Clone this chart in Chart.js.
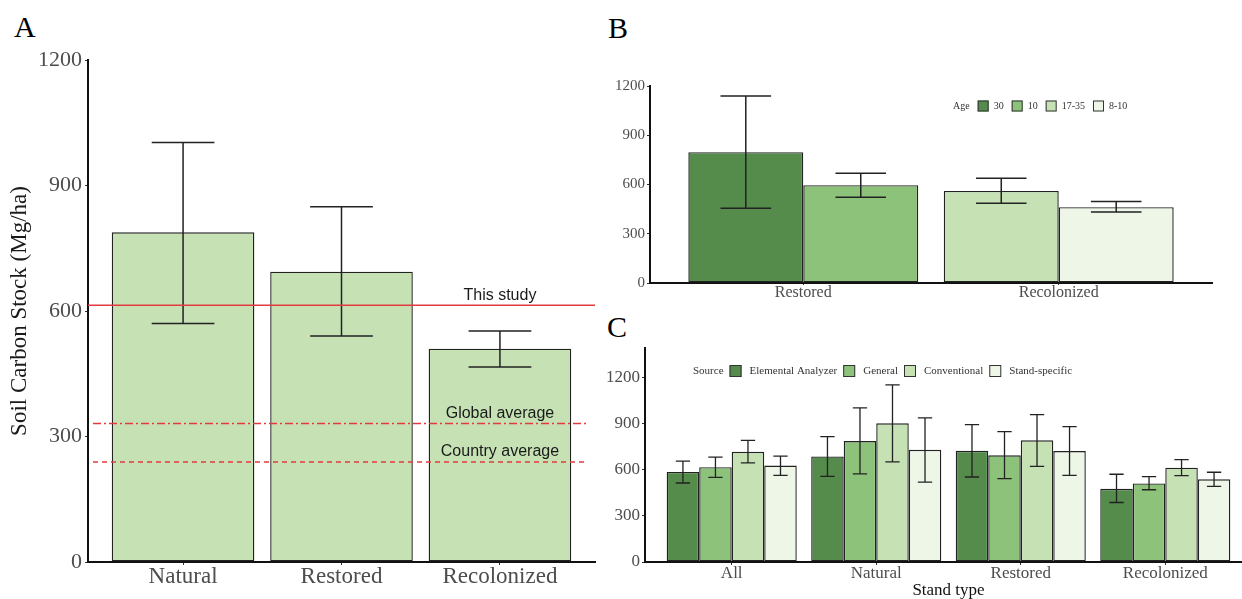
<!DOCTYPE html>
<html>
<head>
<meta charset="utf-8">
<script src="https://cdn.jsdelivr.net/npm/chart.js@4.4.1/dist/chart.umd.min.js"></script>
<style>
  body { margin: 0; width: 1242px; height: 599px; overflow: hidden; background: #fff; position: relative; }
  .panel { position: absolute; }
  .tag { position: absolute; font-family: 'Liberation Serif', 'Times New Roman', serif; font-size: 30px; line-height: 1; color: #000; }
</style>
</head>
<body>
<div class="tag" style="left:14px;top:12px">A</div>
<div class="tag" style="left:608px;top:13px">B</div>
<div class="tag" style="left:607px;top:312px">C</div>
<canvas class="panel" id="chartA" width="600" height="599" style="left:0;top:0"></canvas>
<canvas class="panel" id="chartB" width="642" height="310" style="left:600px;top:0"></canvas>
<canvas class="panel" id="chartC" width="652" height="289" style="left:600px;top:310px"></canvas>
<script>
// Panel A: soil carbon stock by stand type
const standTypesA = ['Natural', 'Restored', 'Recolonized'];
const stockA = [788, 694, 510];
const stockALow = [570, 540, 466];
const stockAHigh = [1003, 849, 552];
const ticksA = [0, 300, 600, 900, 1200];
const refValues = [614, 331, 239];
const refLabels = ['This study', 'Global average', 'Country average'];

// Panel B: by age
const standTypesB = ['Restored', 'Recolonized'];
const ageLabels = ['30', '10', '17-35', '8-10'];
const age30 = [797, null], age30Low = [456, null], age30High = [1139, null];
const age10 = [596, null], age10Low = [523, null], age10High = [669, null];
const age1735 = [null, 561], age1735Low = [null, 486], age1735High = [null, 638];
const age810 = [null, 462], age810Low = [null, 432], age810High = [null, 497];
const ticksB = [0, 300, 600, 900, 1200];

// Panel C: by source
const standTypesC = ['All', 'Natural', 'Restored', 'Recolonized'];
const sourceLabels = ['Elemental Analyzer', 'General', 'Conventional', 'Stand-specific'];
const elemental = [587, 688, 725, 477], elementalLow = [515, 558, 554, 388], elementalHigh = [657, 817, 896, 572];
const general = [618, 788, 696, 512], generalLow = [552, 574, 543, 471], generalHigh = [683, 1005, 850, 556];
const conventional = [718, 904, 793, 615], conventionalLow = [646, 653, 624, 563], conventionalHigh = [793, 1154, 961, 668];
const standSpecific = [629, 731, 723, 539], standSpecificLow = [565, 521, 565, 493], standSpecificHigh = [690, 939, 883, 585];
const ticksC = [0, 300, 600, 900, 1200];

const greens = ['#558b4b', '#8dc27b', '#c6e2b4', '#eef6e8'];
const serif = "'Liberation Serif', 'Times New Roman', serif";
const sans = "'Liberation Sans', Arial, sans-serif";

const toPoints = vals => vals.map((v, i) => ({ x: i + 1, y: v }));

// error bars from errLow / errHigh on each dataset
const errorBars = {
  id: 'errorBars',
  afterDatasetsDraw(chart, args, opts) {
    const { ctx } = chart;
    const y = chart.scales.y;
    ctx.save();
    ctx.strokeStyle = opts.color;
    ctx.lineWidth = opts.width;
    chart.data.datasets.forEach((ds, i) => {
      chart.getDatasetMeta(i).data.forEach((bar, j) => {
        const lo = ds.errLow[j], hi = ds.errHigh[j];
        if (lo == null || hi == null) return;
        const yl = y.getPixelForValue(lo), yh = y.getPixelForValue(hi);
        const half = bar.width * 0.22;
        ctx.beginPath();
        ctx.moveTo(bar.x, yl); ctx.lineTo(bar.x, yh);
        ctx.moveTo(bar.x - half, yl); ctx.lineTo(bar.x + half, yl);
        ctx.moveTo(bar.x - half, yh); ctx.lineTo(bar.x + half, yh);
        ctx.stroke();
      });
    });
    ctx.restore();
  }
};

// reference lines for panel A
const refDashes = [[], [8, 3, 2, 3], [5, 4]];
const refLines = {
  id: 'refLines',
  afterDatasetsDraw(chart) {
    const { ctx, chartArea } = chart;
    const { x, y } = chart.scales;
    const lx = x.getPixelForValue(standTypesA.length);
    refValues.forEach((v, i) => {
      const py = y.getPixelForValue(v);
      ctx.save();
      ctx.strokeStyle = '#e23b3f';
      ctx.lineWidth = 1.5;
      ctx.setLineDash(refDashes[i]);
      ctx.beginPath();
      ctx.moveTo(chartArea.left + (i ? 5 : 0), py);
      ctx.lineTo(chartArea.right - (i ? 8 : 0), py);
      ctx.stroke();
      ctx.setLineDash([]);
      ctx.font = '16px ' + sans;
      ctx.fillStyle = '#1a1a1a';
      ctx.textAlign = 'center';
      ctx.textBaseline = 'middle';
      ctx.fillText(refLabels[i], lx, py - 10);
      ctx.restore();
    });
  }
};

// inline legend with title on the left
const inlineLegend = {
  id: 'inlineLegend',
  afterDraw(chart, args, o) {
    const { ctx } = chart;
    ctx.save();
    ctx.font = o.size + 'px ' + serif;
    ctx.textBaseline = 'middle';
    ctx.textAlign = 'left';
    ctx.fillStyle = '#333';
    let x = o.x;
    ctx.fillText(o.title, x, o.y);
    x += ctx.measureText(o.title).width + o.gapTitle;
    chart.data.datasets.forEach(ds => {
      ctx.fillStyle = ds.backgroundColor;
      ctx.fillRect(x, o.y - o.box / 2, o.box, o.box);
      ctx.strokeStyle = '#333';
      ctx.lineWidth = 1;
      ctx.strokeRect(x + 0.5, o.y - o.box / 2 + 0.5, o.box - 1, o.box - 1);
      x += o.box + o.gapText;
      ctx.fillStyle = '#333';
      ctx.fillText(ds.label, x, o.y);
      x += ctx.measureText(ds.label).width + o.gapItem;
    });
    ctx.restore();
  }
};

function xAxis(cats, fontSize, height, tickLen, title) {
  return {
    type: 'linear', bounds: 'data', min: 0.4, max: cats.length + 0.6, offset: false, z: 1,
    afterBuildTicks: s => { s.ticks = cats.map((c, i) => ({ value: i + 1 })); },
    afterFit: s => { s.height = height; },
    ticks: { callback: v => cats[v - 1], color: '#4d4d4d', font: { family: serif, size: fontSize, lineHeight: 1 }, padding: 0, maxRotation: 0, autoSkip: false },
    grid: { display: true, offset: false, drawOnChartArea: false, drawTicks: true, tickLength: tickLen, color: '#333' },
    border: { display: true, color: '#111', width: 2 },
    title: title ? { display: true, text: title, color: '#111', font: { family: serif, size: 17, lineHeight: 1 }, padding: 0 } : { display: false }
  };
}

function yAxis(tickVals, max, fontSize, width, pad, title) {
  return {
    bounds: 'data', min: 0, max: max, z: 1,
    afterBuildTicks: s => { s.ticks = tickVals.map(v => ({ value: v })); },
    afterFit: s => { s.width = width; },
    ticks: { callback: v => String(v), color: '#4d4d4d', font: { family: serif, size: fontSize }, padding: pad },
    grid: { display: true, drawOnChartArea: false, drawTicks: true, tickLength: 3, color: '#333' },
    border: { display: true, color: '#111', width: 2 },
    title: title ? { display: true, text: title, color: '#1a1a1a', font: { family: serif, size: 23, lineHeight: 1 }, padding: { top: 8, bottom: 0 } } : { display: false }
  };
}

function barSet(label, vals, lo, hi, color) {
  return {
    label: label, data: toPoints(vals), errLow: lo, errHigh: hi,
    backgroundColor: color, borderColor: '#222', borderWidth: 1.4, borderSkipped: false,
    categoryPercentage: 0.9, barPercentage: 1, skipNull: true
  };
}

// Panel A
new Chart(document.getElementById('chartA'), {
  type: 'bar',
  data: { datasets: [barSet('Soil carbon', stockA, stockALow, stockAHigh, '#c6e2b4')] },
  options: {
    responsive: false, animation: false,
    layout: { padding: { top: 60, right: 5, bottom: 0, left: 0 } },
    plugins: { legend: { display: false }, tooltip: { enabled: false }, errorBars: { color: '#222', width: 1.5 } },
    scales: {
      x: xAxis(standTypesA, 23, 37, 3),
      y: yAxis(ticksA, 1200, 22, 88, 3, 'Soil Carbon Stock (Mg/ha)')
    }
  },
  plugins: [errorBars, refLines]
});

// Panel B
new Chart(document.getElementById('chartB'), {
  type: 'bar',
  data: {
    datasets: [
      barSet(ageLabels[0], age30, age30Low, age30High, greens[0]),
      barSet(ageLabels[1], age10, age10Low, age10High, greens[1]),
      barSet(ageLabels[2], age1735, age1735Low, age1735High, greens[2]),
      barSet(ageLabels[3], age810, age810Low, age810High, greens[3])
    ]
  },
  options: {
    responsive: false, animation: false,
    layout: { padding: { top: 86, right: 30, bottom: 0, left: 0 } },
    plugins: {
      legend: { display: false }, tooltip: { enabled: false },
      errorBars: { color: '#222', width: 1.5 },
      inlineLegend: { title: 'Age', x: 353, y: 106, size: 10, box: 11, gapTitle: 8, gapText: 5, gapItem: 8 }
    },
    scales: {
      x: xAxis(standTypesB, 16, 27, 2),
      y: yAxis(ticksB, 1200, 15, 50, 2)
    }
  },
  plugins: [errorBars, inlineLegend]
});

// Panel C
new Chart(document.getElementById('chartC'), {
  type: 'bar',
  data: {
    datasets: [
      barSet(sourceLabels[0], elemental, elementalLow, elementalHigh, greens[0]),
      barSet(sourceLabels[1], general, generalLow, generalHigh, greens[1]),
      barSet(sourceLabels[2], conventional, conventionalLow, conventionalHigh, greens[2]),
      barSet(sourceLabels[3], standSpecific, standSpecificLow, standSpecificHigh, greens[3])
    ]
  },
  options: {
    responsive: false, animation: false,
    layout: { padding: { top: 38, right: 0, bottom: 0, left: 0 } },
    plugins: {
      legend: { display: false }, tooltip: { enabled: false },
      errorBars: { color: '#222', width: 1.3 },
      inlineLegend: { title: 'Source', x: 93, y: 61, size: 11, box: 12, gapTitle: 6, gapText: 8, gapItem: 6 }
    },
    scales: {
      x: xAxis(standTypesC, 17, 37, 3, 'Stand type'),
      y: yAxis(ticksC, 1395, 17, 45, 2)
    }
  },
  plugins: [errorBars, inlineLegend]
});
</script>
</body>
</html>
